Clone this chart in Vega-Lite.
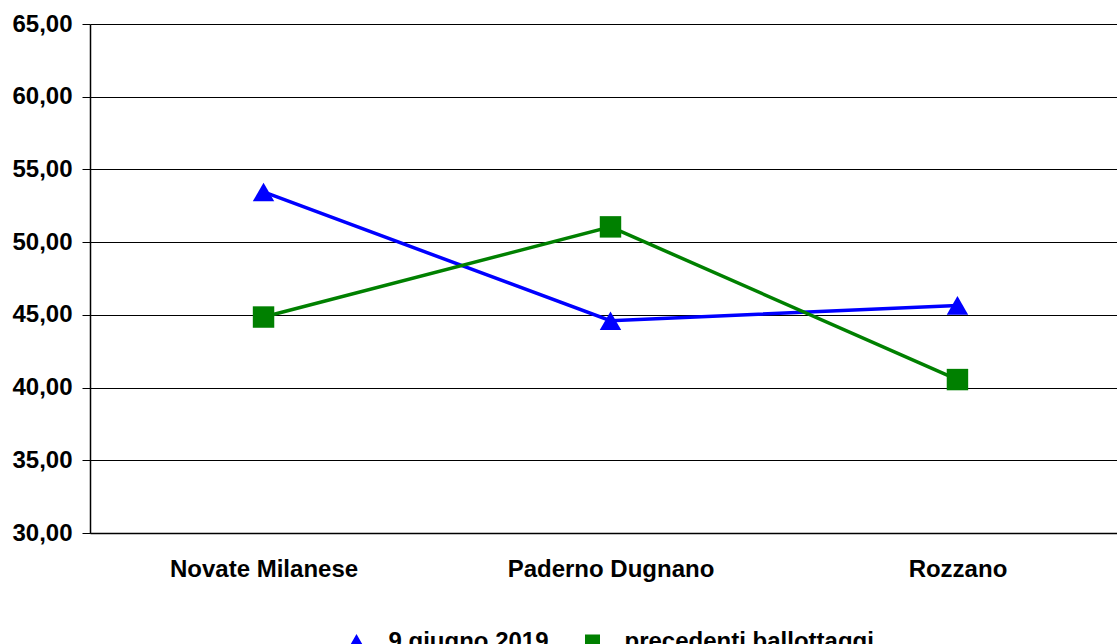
{
  "$schema": "https://vega.github.io/schema/vega-lite/v6.json",
  "width": 1027,
  "height": 509,
  "autosize": {"type": "none"},
  "padding": {"left": 90, "top": 24, "right": 0, "bottom": 111},
  "background": "white",
  "config": {
    "view": {"stroke": null},
    "font": "Liberation Sans",
    "axis": {
      "labelFont": "Liberation Sans",
      "labelFontSize": 24,
      "labelFontWeight": "bold",
      "labelColor": "black",
      "labelLimit": 600,
      "domainColor": "black",
      "domainWidth": 1.5,
      "tickColor": "black",
      "gridColor": "black",
      "gridOpacity": 1,
      "gridWidth": 1.2,
      "title": null
    },
    "legend": {
      "labelFont": "Liberation Sans",
      "labelFontSize": 24,
      "labelFontWeight": "bold",
      "labelColor": "black",
      "labelLimit": 600
    }
  },
  "data": {
    "values": [
      {"comune": "Novate Milanese", "serie": "9 giugno 2019", "valore": 53.45},
      {"comune": "Paderno Dugnano", "serie": "9 giugno 2019", "valore": 44.6},
      {"comune": "Rozzano", "serie": "9 giugno 2019", "valore": 45.65},
      {"comune": "Novate Milanese", "serie": "precedenti ballottaggi", "valore": 44.85},
      {"comune": "Paderno Dugnano", "serie": "precedenti ballottaggi", "valore": 51.05},
      {"comune": "Rozzano", "serie": "precedenti ballottaggi", "valore": 40.55}
    ]
  },
  "encoding": {
    "x": {
      "field": "comune",
      "type": "nominal",
      "sort": null,
      "scale": {"type": "point", "padding": 0.48, "align": 0.521},
      "axis": {"labelAngle": 0, "ticks": false, "labelPadding": 24, "grid": false, "title": null}
    },
    "y": {
      "field": "valore",
      "type": "quantitative",
      "scale": {"domain": [30, 65], "nice": false, "zero": false},
      "axis": {
        "values": [30, 35, 40, 45, 50, 55, 60, 65],
        "labelExpr": "replace(format(datum.value, '.2f'), '.', ',')",
        "tickSize": 8,
        "labelPadding": 10,
        "title": null
      }
    }
  },
  "resolve": {"scale": {"shape": "independent"}, "legend": {"shape": "independent"}},
  "layer": [
    {
      "mark": {"type": "line", "strokeWidth": 3.5},
      "encoding": {
        "color": {
          "field": "serie",
          "type": "nominal",
          "scale": {"domain": ["9 giugno 2019", "precedenti ballottaggi"], "range": ["#0000ff", "#008000"]},
          "legend": null
        }
      }
    },
    {
      "mark": {"type": "point", "filled": true, "opacity": 1},
      "encoding": {
        "color": {
          "field": "serie",
          "type": "nominal",
          "scale": {"domain": ["9 giugno 2019", "precedenti ballottaggi"], "range": ["#0000ff", "#008000"]},
          "legend": null
        },
        "shape": {
          "field": "serie",
          "type": "nominal",
          "scale": {"domain": ["9 giugno 2019", "precedenti ballottaggi"], "range": ["triangle-up", "square"]},
          "legend": null
        },
        "size": {"value": 460}
      }
    },
    {
      "transform": [{"filter": "false"}],
      "mark": {"type": "point", "filled": true, "opacity": 1, "color": "#0000ff", "fill": "#0000ff", "stroke": "#0000ff", "strokeWidth": 3},
      "encoding": {
        "shape": {
          "field": "serie",
          "type": "nominal",
          "scale": {"domain": ["9 giugno 2019"], "range": ["M-2.7,0H-0.7M0.7,0H2.7M0,-0.8L0.8,0.6L-0.8,0.6Z"]},
          "legend": {
            "title": null,
            "orient": "none",
            "direction": "horizontal",
            "legendX": 239,
            "legendY": 606,
            "symbolSize": 400,
            "symbolStrokeWidth": 3,
            "symbolFillColor": "#0000ff",
            "symbolStrokeColor": "#0000ff",
            "symbolOpacity": 1,
            "symbolOffset": 15.5,
            "labelOffset": 20
          }
        },
        "size": {"value": 400}
      }
    },
    {
      "transform": [{"filter": "false"}],
      "mark": {"type": "point", "filled": true, "opacity": 1, "color": "#008000", "fill": "#008000", "stroke": "#008000", "strokeWidth": 3},
      "encoding": {
        "shape": {
          "field": "serie",
          "type": "nominal",
          "scale": {"domain": ["precedenti ballottaggi"], "range": ["M-2.7,0H-0.7M0.7,0H2.7M-0.75,-0.75H0.75V0.75H-0.75Z"]},
          "legend": {
            "title": null,
            "orient": "none",
            "direction": "horizontal",
            "legendX": 475,
            "legendY": 606,
            "symbolSize": 400,
            "symbolStrokeWidth": 3,
            "symbolFillColor": "#008000",
            "symbolStrokeColor": "#008000",
            "symbolOpacity": 1,
            "symbolOffset": 15.5,
            "labelOffset": 20
          }
        },
        "size": {"value": 400}
      }
    }
  ]
}
